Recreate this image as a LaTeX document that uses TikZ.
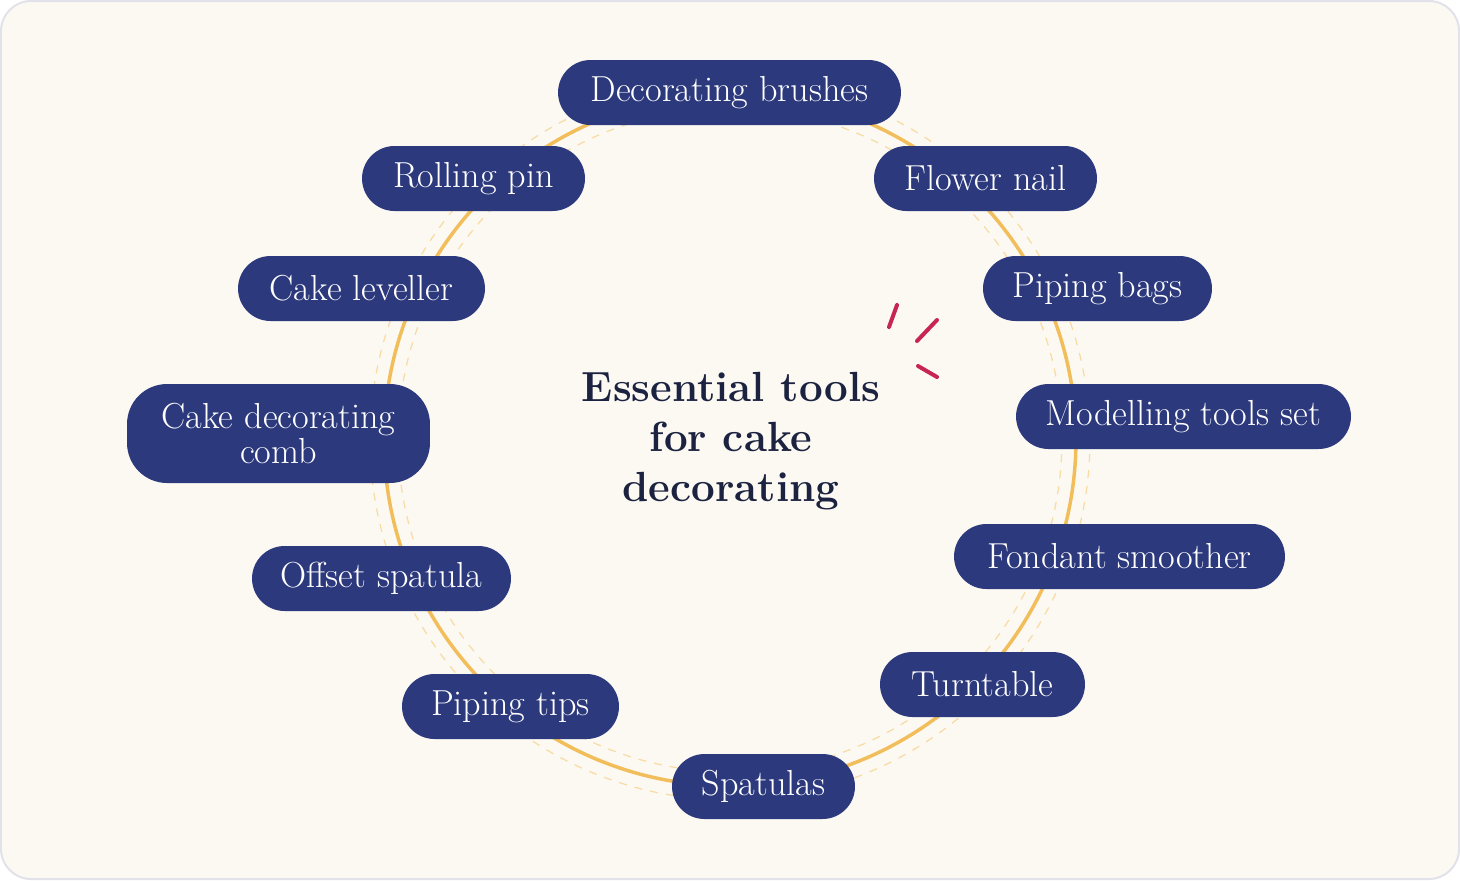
\documentclass[tikz,border=0pt]{standalone}
\usepackage{xcolor}
\usepackage{tikz}
\usetikzlibrary{positioning}
\definecolor{CkNavy}{RGB}{44,57,125}
\definecolor{CkInk}{RGB}{28,35,64}
\definecolor{CkGold}{RGB}{242,190,92}
\definecolor{CkCream}{RGB}{252,249,242}
\definecolor{CkEdge}{RGB}{226,226,234}
\definecolor{CkRose}{RGB}{200,38,82}

\begin{document}
\begin{tikzpicture}[x=0.02cm, y=-0.02cm,
          tool/.style={rectangle, rounded corners=0.65cm, fill=CkNavy, text=white,
                       minimum height=1.3cm, inner sep=0pt, align=center,
                       font=\fontsize{20.6}{20}\selectfont},
          ring/.style={CkGold, line width=0.07cm},
          guide/.style={CkGold!55, line width=0.025cm, dash pattern=on 0.16cm off 0.16cm},
          spark/.style={CkRose, line width=0.08cm, line cap=round}
        ]
        \useasboundingbox (0,0) rectangle (1460,880);
        \draw[fill=CkCream, draw=CkEdge, line width=0.04cm, rounded corners=0.6cm]
              (1,1) rectangle (1459,879);

        % ring behind the tools
        \coordinate (hub) at (730,440);
        \draw[guide] (hub) circle[radius=6.64cm];
        \draw[guide] (hub) circle[radius=7.2cm];
        \draw[ring]  (hub) circle[radius=6.92cm];

        \node[tool, minimum width=6.86cm] (brushes)   at (729.5,92.5)  {Decorating brushes};
        \node[tool, minimum width=4.46cm] (rolling)   at (473.5,178.5) {Rolling pin};
        \node[tool, minimum width=4.46cm] (flower)    at (985.5,178.5) {Flower nail};
        \node[tool, minimum width=4.94cm] (leveller)  at (361.5,288.5) {Cake leveller};
        \node[tool, minimum width=4.58cm] (bags)      at (1097.5,288.5) {Piping bags};
        \node[tool, minimum width=6.06cm, minimum height=1.98cm, rounded corners=0.8cm]
              (comb) at (278.5,433.5) {Cake decorating\\comb};
        \node[tool, minimum width=6.7cm]  (modelling) at (1183.5,416.5) {Modelling tools set};
        \node[tool, minimum width=5.18cm] (offset)    at (381.5,578.5) {Offset spatula};
        \node[tool, minimum width=6.62cm] (fondant)   at (1119.5,556.5) {Fondant smoother};
        \node[tool, minimum width=4.34cm] (tips)      at (510.5,706.5) {Piping tips};
        \node[tool, minimum width=4.1cm]  (turntable) at (982.5,684.5) {Turntable};
        \node[tool, minimum width=3.66cm] (spatulas)  at (763.5,786.5) {Spatulas};

        % centre title
        \node[text=CkInk, align=center, font=\fontsize{24}{28.5}\selectfont\bfseries]
              (title) at (731,441) {Essential tools\\for cake\\decorating};

        % little sparkle
        \draw[spark] (897,305) -- (889,327);
        \draw[spark] (937,320) -- (917,341);
        \draw[spark] (918,366) -- (937,377);
      \end{tikzpicture}
\end{document}
